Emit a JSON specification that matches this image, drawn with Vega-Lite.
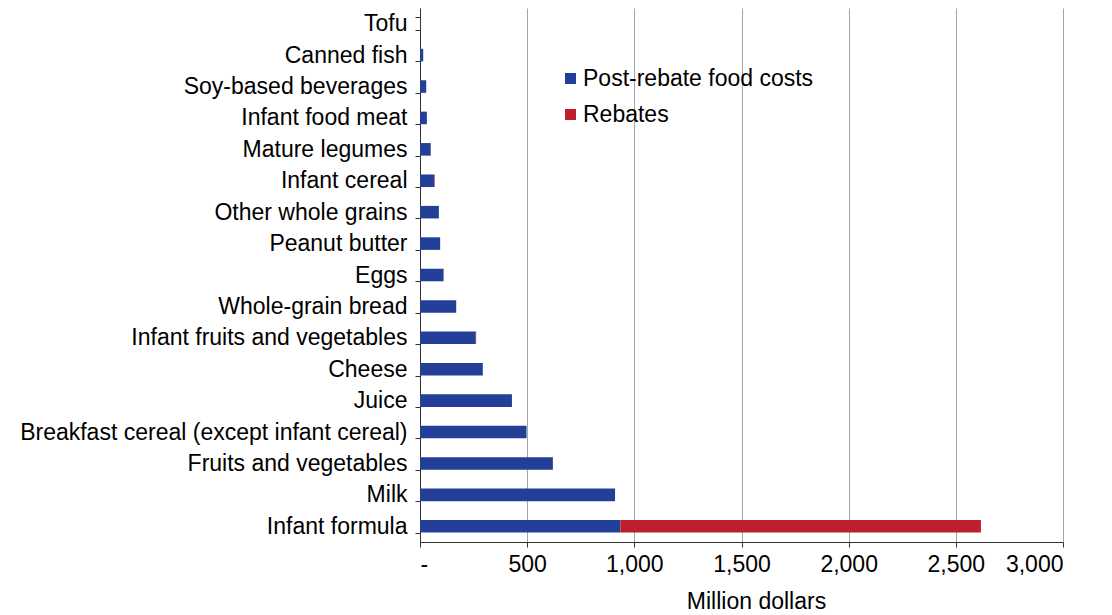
{
  "$schema": "https://vega.github.io/schema/vega-lite/v6.json",
  "width": 643,
  "height": 534,
  "autosize": {"type": "none"},
  "padding": {"left": 420, "top": 8, "right": 49, "bottom": 73},
  "background": "white",
  "config": {
    "view": {"stroke": null},
    "font": "Liberation Sans",
    "axis": {"labelFont": "Liberation Sans", "titleFont": "Liberation Sans", "labelColor": "#000", "titleColor": "#000"},
    "legend": {"labelFont": "Liberation Sans"}
  },
  "data": {
    "values": [
      {"item": "Tofu", "type": "Post-rebate food costs", "value": 1},
      {"item": "Canned fish", "type": "Post-rebate food costs", "value": 15},
      {"item": "Soy-based beverages", "type": "Post-rebate food costs", "value": 29},
      {"item": "Infant food meat", "type": "Post-rebate food costs", "value": 32},
      {"item": "Mature legumes", "type": "Post-rebate food costs", "value": 50},
      {"item": "Infant cereal", "type": "Post-rebate food costs", "value": 67},
      {"item": "Infant cereal", "type": "Rebates", "value": 2},
      {"item": "Other whole grains", "type": "Post-rebate food costs", "value": 88},
      {"item": "Peanut butter", "type": "Post-rebate food costs", "value": 94},
      {"item": "Eggs", "type": "Post-rebate food costs", "value": 110},
      {"item": "Whole-grain bread", "type": "Post-rebate food costs", "value": 169},
      {"item": "Infant fruits and vegetables", "type": "Post-rebate food costs", "value": 260},
      {"item": "Infant fruits and vegetables", "type": "Rebates", "value": 2},
      {"item": "Cheese", "type": "Post-rebate food costs", "value": 293},
      {"item": "Juice", "type": "Post-rebate food costs", "value": 429},
      {"item": "Breakfast cereal (except infant cereal)", "type": "Post-rebate food costs", "value": 497},
      {"item": "Fruits and vegetables", "type": "Post-rebate food costs", "value": 620},
      {"item": "Milk", "type": "Post-rebate food costs", "value": 910},
      {"item": "Infant formula", "type": "Post-rebate food costs", "value": 935},
      {"item": "Infant formula", "type": "Rebates", "value": 1682}
    ]
  },
  "mark": {"type": "bar"},
  "encoding": {
    "y": {
      "field": "item",
      "type": "nominal",
      "sort": ["Tofu", "Canned fish", "Soy-based beverages", "Infant food meat", "Mature legumes", "Infant cereal", "Other whole grains", "Peanut butter", "Eggs", "Whole-grain bread", "Infant fruits and vegetables", "Cheese", "Juice", "Breakfast cereal (except infant cereal)", "Fruits and vegetables", "Milk", "Infant formula"],
      "scale": {"paddingInner": 0.6, "paddingOuter": 0.3},
      "axis": {
        "title": null,
        "tickBand": "extent",
        "tickSize": 5,
        "tickColor": "#333",
        "domainColor": "#333",
        "labelFontSize": 23,
        "labelPadding": 8,
        "labelLimit": 600,
        "grid": false
      }
    },
    "x": {
      "field": "value",
      "type": "quantitative",
      "stack": "zero",
      "scale": {"domain": [0, 3000], "nice": false},
      "axis": {
        "title": "Million dollars",
        "values": [0, 500, 1000, 1500, 2000, 2500, 3000],
        "labelExpr": "datum.value === 0 ? '-' : format(datum.value, ',')",
        "labelFontSize": 23,
        "labelPadding": 6,
        "tickSize": 5,
        "tickColor": "#333",
        "domainColor": "#333",
        "grid": true,
        "gridColor": "#a6a6a6",
        "gridWidth": 1,
        "titleFontSize": 23,
        "titleFontWeight": "normal",
        "titlePadding": 14,
        "titleX": 336
      }
    },
    "color": {
      "field": "type",
      "type": "nominal",
      "scale": {"domain": ["Post-rebate food costs", "Rebates"], "range": ["#233f97", "#bd1f2e"]},
      "legend": {
        "title": null,
        "orient": "none",
        "legendX": 139,
        "legendY": 59,
        "padding": 0,
        "symbolType": "square",
        "symbolSize": 121,
        "symbolStrokeWidth": 0,
        "labelFontSize": 23,
        "labelColor": "#000",
        "labelOffset": 1,
        "labelLimit": 400,
        "rowPadding": 12
      }
    },
    "order": {"field": "type", "sort": "ascending"}
  }
}
